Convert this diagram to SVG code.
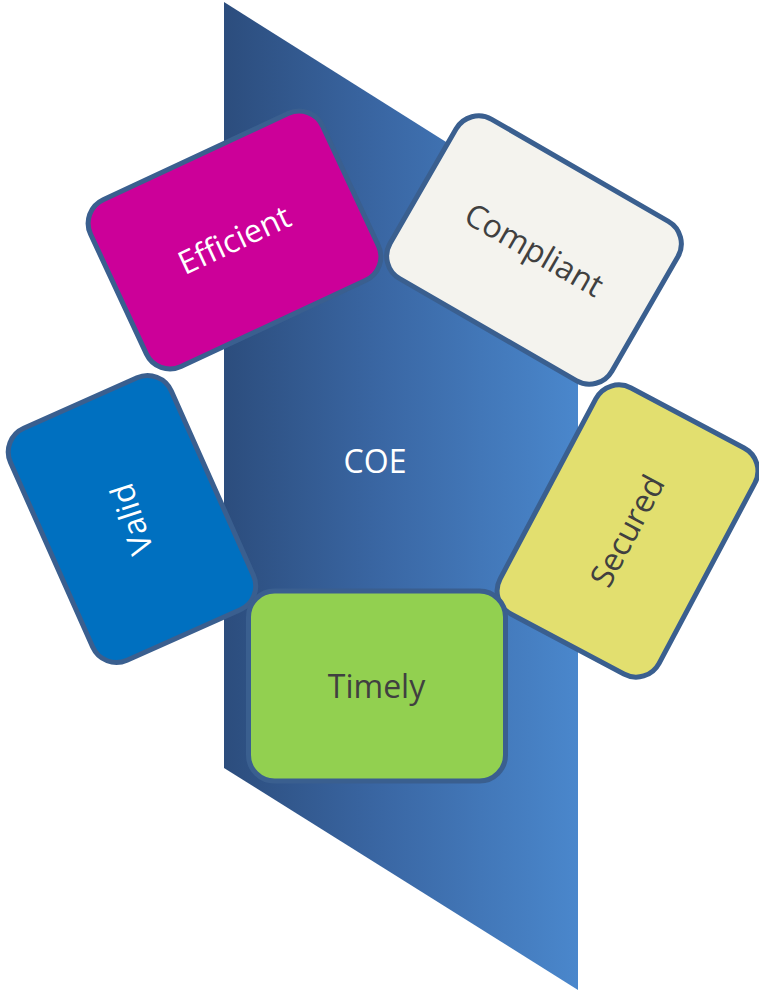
<svg xmlns="http://www.w3.org/2000/svg" width="759" height="995" viewBox="0 0 759 995">
<defs>
<linearGradient id="band" gradientUnits="userSpaceOnUse" x1="224" y1="0" x2="578" y2="0">
<stop offset="0" stop-color="#2c4d7d"/>
<stop offset="0.45" stop-color="#3a67a4"/>
<stop offset="1" stop-color="#4a87cc"/>
</linearGradient>
<style>
.card{stroke:#3a5f8f;stroke-width:5}
.lbl{font-family:"Open Sans","Noto Sans",sans-serif;font-size:32px;text-anchor:middle}
.dark{fill:#404040}
.light{fill:#ffffff}
</style>
</defs>
<g id="coe">
<polygon points="224,2 578,225 578,990 224,768" fill="url(#band)"/>
<text class="lbl light" x="375" y="473">COE</text>
</g>
<g id="efficient" transform="translate(234.5,240) rotate(-25)">
<rect class="card" x="-128" y="-92" width="256" height="184" rx="26" fill="#cc0099"/>
<text class="lbl light" x="0" y="11">Efficient</text>
</g>
<g id="compliant" transform="translate(534,250) rotate(30)">
<rect class="card" x="-128" y="-92" width="256" height="184" rx="26" fill="#f4f3ee"/>
<text class="lbl dark" x="0" y="11">Compliant</text>
</g>
<g id="secured" transform="translate(627.5,531) rotate(-62)">
<rect class="card" x="-128" y="-90" width="256" height="180" rx="26" fill="#e2df6f"/>
<text class="lbl dark" x="0" y="11">Secured</text>
</g>
<g id="valid" transform="translate(132,519) rotate(-114)">
<rect class="card" x="-127" y="-88" width="254" height="176" rx="26" fill="#0070c0"/>
<text class="lbl light" x="0" y="11" transform="rotate(6)">Valid</text>
</g>
<g id="timely" transform="translate(376.5,686)">
<rect class="card" x="-128" y="-95" width="257" height="190" rx="26" fill="#92d050"/>
<text class="lbl dark" x="0" y="12">Timely</text>
</g>
<g id="connectors"></g>
</svg>
